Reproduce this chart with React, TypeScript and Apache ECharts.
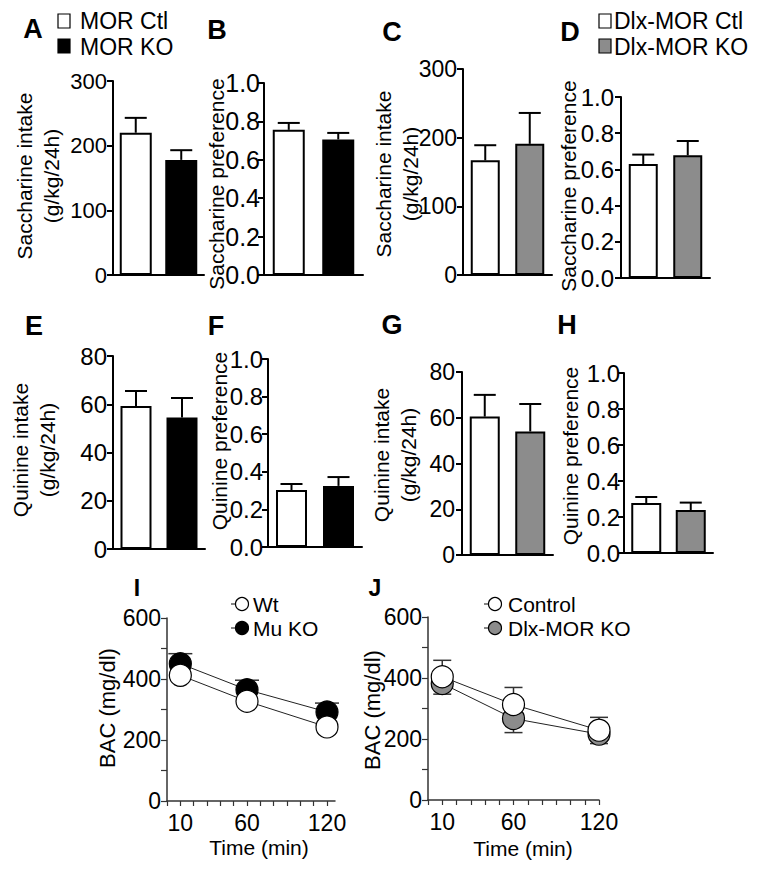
import React, { useEffect, useRef } from "react";
import * as echarts from "echarts";

const FONT = "'Liberation Sans', Arial, Helvetica, sans-serif";

// ---------- data ----------
const groupsMOR = ["MOR Ctl", "MOR KO"];
const groupsDlx = ["Dlx-MOR Ctl", "Dlx-MOR KO"];
const colorsMOR = ["#ffffff", "#000000"];
const colorsDlx = ["#ffffff", "#8c8c8c"];

const saccharineIntakeMOR = [220, 178];
const saccharineIntakeMORSem = [23, 15];
const saccharinePrefMOR = [0.756, 0.706];
const saccharinePrefMORSem = [0.036, 0.034];
const saccharineIntakeDlx = [167, 191];
const saccharineIntakeDlxSem = [22, 45];
const saccharinePrefDlx = [0.63, 0.678];
const saccharinePrefDlxSem = [0.052, 0.079];

const quinineIntakeMOR = [59.3, 54.5];
const quinineIntakeMORSem = [6.2, 8.1];
const quininePrefMOR = [0.303, 0.325];
const quininePrefMORSem = [0.032, 0.047];
const quinineIntakeDlx = [60.5, 54];
const quinineIntakeDlxSem = [9.5, 12];
const quininePrefDlx = [0.278, 0.239];
const quininePrefDlxSem = [0.033, 0.041];

const timeMin = [10, 60, 120];
const bacWt = [412, 327, 243];
const bacMuKO = [450, 365, 292];
const bacMuKOSem = [33, 31, 29];
const bacControl = [404, 313, 229];
const bacControlSem = [54, 56, 42];
const bacDlxKO = [382, 267, 216];
const bacDlxKOSem = [35, 46, 31];

const timeTicks = [0, 10, 20, 30, 40, 50, 60, 70, 80, 90, 100, 110, 120];
const timeLabels = [10, 60, 120];

// ---------- helpers ----------
type Box = { left: number; top: number; width: number; height: number };

function errRender(capHalf: number, lw: number, color: string) {
  return (params: any, api: any) => {
    const x = api.value(0);
    const a = api.coord([x, api.value(1)]);
    const b = api.coord([x, api.value(2)]);
    const style = { stroke: color, lineWidth: lw };
    return {
      type: "group",
      children: [
        { type: "line", shape: { x1: a[0], y1: a[1], x2: b[0], y2: b[1] }, style },
        { type: "line", shape: { x1: b[0] - capHalf, y1: b[1], x2: b[0] + capHalf, y2: b[1] }, style },
      ],
    };
  };
}

function barPanel(
  idx: number,
  box: Box,
  yMax: number,
  yInterval: number,
  decimals: number,
  cats: string[],
  values: number[],
  sems: number[],
  colors: string[],
  barWidth: number,
  tickFont: number,
  labelMargin: number
) {
  const grid = { ...box, containLabel: false };
  const xAxis = {
    type: "category",
    gridIndex: idx,
    data: cats,
    boundaryGap: true,
    axisLine: { show: true, lineStyle: { color: "#000", width: 2 } },
    axisTick: { show: false },
    axisLabel: { show: false },
    splitLine: { show: false },
  };
  const yAxis = {
    type: "value",
    gridIndex: idx,
    min: 0,
    max: yMax,
    interval: yInterval,
    axisLine: { show: true, lineStyle: { color: "#000", width: 2 } },
    axisTick: { show: true, length: 6, lineStyle: { color: "#000", width: 2 } },
    axisLabel: {
      margin: labelMargin,
      fontSize: tickFont,
      fontFamily: FONT,
      color: "#000",
      formatter: (v: number) => v.toFixed(decimals),
    },
    splitLine: { show: false },
  };
  const series = [
    {
      type: "bar",
      xAxisIndex: idx,
      yAxisIndex: idx,
      barWidth,
      z: 2,
      data: values.map((v, i) => ({
        value: v,
        itemStyle: { color: colors[i], borderColor: "#000", borderWidth: 2 },
      })),
    },
    {
      type: "custom",
      xAxisIndex: idx,
      yAxisIndex: idx,
      z: 3,
      renderItem: errRender(11, 2, "#000"),
      encode: { x: 0, y: [1, 2] },
      data: values.map((v, i) => [i, v, v + sems[i]]),
    },
  ];
  return { grid, xAxis, yAxis, series };
}

function linePanel(
  idx: number,
  box: Box,
  xMax: number,
  lines: { name: string; values: number[]; fill: string }[],
  errs: { values: number[]; sems: number[]; dir: number; cap: number }[]
) {
  const grid = { ...box, containLabel: false };
  const xAxis = {
    type: "value",
    gridIndex: idx,
    min: 0,
    max: xMax,
    interval: 10,
    axisLine: { show: true, lineStyle: { color: "#333", width: 1.5 } },
    axisTick: { show: true, length: 5, customValues: timeTicks, lineStyle: { color: "#333", width: 1.2 } },
    axisLabel: {
      margin: 10,
      fontSize: 23,
      fontFamily: FONT,
      color: "#000",
      customValues: timeLabels,
      formatter: (v: number) => (timeLabels.indexOf(v) >= 0 ? String(v) : ""),
    },
    splitLine: { show: false },
  };
  const yAxis = {
    type: "value",
    gridIndex: idx,
    min: 0,
    max: 600,
    interval: 100,
    axisLine: { show: true, lineStyle: { color: "#333", width: 1.5 } },
    axisTick: { show: true, length: 6, lineStyle: { color: "#333", width: 1.2 } },
    axisLabel: {
      margin: 6,
      fontSize: 23,
      fontFamily: FONT,
      color: "#000",
      formatter: (v: number) => (v % 200 === 0 ? String(v) : ""),
    },
    splitLine: { show: false },
  };
  const series: any[] = [];
  errs.forEach((e) => {
    series.push({
      type: "custom",
      xAxisIndex: idx,
      yAxisIndex: idx,
      z: 1,
      renderItem: errRender(e.cap, 1.5, "#333"),
      encode: { x: 0, y: [1, 2] },
      data: e.values.map((v, i) => [timeMin[i], v, v + e.dir * e.sems[i]]),
    });
  });
  lines.forEach((l, k) => {
    series.push({
      type: "line",
      name: l.name,
      xAxisIndex: idx,
      yAxisIndex: idx,
      z: 2 + k,
      symbol: "circle",
      symbolSize: 22,
      itemStyle: { color: l.fill, borderColor: "#000", borderWidth: 1.2 },
      lineStyle: { color: "#222", width: 1 },
      data: l.values.map((v, i) => [timeMin[i], v]),
    });
  });
  return { grid, xAxis, yAxis, series };
}

function txt(text: string, x: number, y: number, size: number, extra: any = {}) {
  return {
    type: "text",
    x,
    y,
    rotation: extra.rotation || 0,
    style: {
      text,
      fontSize: size,
      fontFamily: FONT,
      fontWeight: extra.bold ? "bold" : "normal",
      fill: "#000",
      align: extra.align || "center",
      verticalAlign: "middle",
      lineHeight: extra.lineHeight || size * 1.05,
    },
  };
}

function vtxt(text: string, x: number, y: number, size: number, lineHeight = 27) {
  return txt(text, x, y, size, { rotation: Math.PI / 2, lineHeight });
}

export default function App() {
  const ref = useRef<HTMLDivElement>(null);

  useEffect(() => {
    document.body.style.margin = "0";
    if (!ref.current) return;
    const chart = echarts.init(ref.current, undefined, { renderer: "svg" });

    const panels = [
      barPanel(0, { left: 113, top: 81, width: 91, height: 194 }, 300, 100, 0, groupsMOR, saccharineIntakeMOR, saccharineIntakeMORSem, colorsMOR, 32, 22, 6),
      barPanel(1, { left: 264, top: 83, width: 99, height: 192 }, 1, 0.2, 1, groupsMOR, saccharinePrefMOR, saccharinePrefMORSem, colorsMOR, 32, 25, 4),
      barPanel(2, { left: 463, top: 69, width: 89, height: 206 }, 300, 100, 0, groupsDlx, saccharineIntakeDlx, saccharineIntakeDlxSem, colorsDlx, 29, 23, 6),
      barPanel(3, { left: 621, top: 97, width: 89, height: 181 }, 1, 0.2, 1, groupsDlx, saccharinePrefDlx, saccharinePrefDlxSem, colorsDlx, 29, 24, 7),
      barPanel(4, { left: 113, top: 356, width: 92, height: 193 }, 80, 20, 0, groupsMOR, quinineIntakeMOR, quinineIntakeMORSem, colorsMOR, 31, 24, 6),
      barPanel(5, { left: 268, top: 359, width: 94, height: 188 }, 1, 0.2, 1, groupsMOR, quininePrefMOR, quininePrefMORSem, colorsMOR, 31, 24, 5),
      barPanel(6, { left: 462, top: 372, width: 91, height: 183 }, 80, 20, 0, groupsDlx, quinineIntakeDlx, quinineIntakeDlxSem, colorsDlx, 30, 23, 7),
      barPanel(7, { left: 624, top: 373, width: 89, height: 180 }, 1, 0.2, 1, groupsDlx, quininePrefDlx, quininePrefDlxSem, colorsDlx, 30, 24, 4),
      linePanel(
        8,
        { left: 167, top: 618, width: 168, height: 183 },
        126,
        [
          { name: "Mu KO", values: bacMuKO, fill: "#000000" },
          { name: "Wt", values: bacWt, fill: "#ffffff" },
        ],
        [{ values: bacMuKO, sems: bacMuKOSem, dir: 1, cap: 12 }]
      ),
      linePanel(
        9,
        { left: 428, top: 617, width: 171, height: 183 },
        120,
        [
          { name: "Dlx-MOR KO", values: bacDlxKO, fill: "#8c8c8c" },
          { name: "Control", values: bacControl, fill: "#ffffff" },
        ],
        [
          { values: bacDlxKO, sems: bacDlxKOSem, dir: -1, cap: 9 },
          { values: bacControl, sems: bacControlSem, dir: 1, cap: 9 },
        ]
      ),
    ];

    const legendSq = (x: number, y: number, fill: string) => ({
      type: "rect",
      shape: { x, y, width: 12, height: 14 },
      style: { fill, stroke: "#000", lineWidth: 1.2 },
    });
    const legendCircle = (cx: number, cy: number, fill: string) => [
      { type: "line", shape: { x1: cx - 11, y1: cy, x2: cx - 5, y2: cy }, style: { stroke: "#333", lineWidth: 1.2 } },
      { type: "circle", shape: { cx, cy, r: 6.5 }, style: { fill, stroke: "#000", lineWidth: 1.2 } },
    ];

    const graphic: any[] = [
      // panel letters
      txt("A", 33, 29, 27, { bold: true }),
      txt("B", 217, 30, 27, { bold: true }),
      txt("C", 392, 32, 27, { bold: true }),
      txt("D", 570, 32, 27, { bold: true }),
      txt("E", 34, 326, 27, { bold: true }),
      txt("F", 216, 326, 27, { bold: true }),
      txt("G", 392, 325, 27, { bold: true }),
      txt("H", 567, 325, 27, { bold: true }),
      txt("I", 137, 588, 23, { bold: true }),
      txt("J", 375, 588, 23, { bold: true }),
      // bar legends
      legendSq(58, 14, "#ffffff"),
      legendSq(58, 39, "#000000"),
      txt(groupsMOR[0], 80, 21, 23, { align: "left", lineHeight: 22 }),
      txt(groupsMOR[1], 80, 47, 23, { align: "left", lineHeight: 22 }),
      legendSq(599, 14, "#ffffff"),
      legendSq(599, 39, "#8c8c8c"),
      txt(groupsDlx[0], 614, 21, 23, { align: "left", lineHeight: 22 }),
      txt(groupsDlx[1], 614, 47, 23, { align: "left", lineHeight: 22 }),
      // line legends
      ...legendCircle(242, 604, "#ffffff"),
      ...legendCircle(242, 628, "#000000"),
      txt("Wt", 253, 604, 21, { align: "left", lineHeight: 20 }),
      txt("Mu KO", 253, 628, 21, { align: "left", lineHeight: 20 }),
      ...legendCircle(495, 604, "#ffffff"),
      ...legendCircle(495, 628, "#8c8c8c"),
      txt("Control", 508, 604, 21, { align: "left", lineHeight: 20 }),
      txt("Dlx-MOR KO", 508, 628, 21, { align: "left", lineHeight: 20 }),
      // y axis titles
      vtxt("Saccharine intake\n(g/kg/24h)", 38, 176, 21),
      vtxt("Saccharine preference", 216, 184, 21),
      vtxt("Saccharine intake\n(g/kg/24h)", 397, 174, 21, 27),
      vtxt("Saccharine preference", 568, 186, 21),
      vtxt("Quinine intake\n(g/kg/24h)", 34, 450, 21),
      vtxt("Quinine preference", 219, 441, 21),
      vtxt("Quinine intake\n(g/kg/24h)", 395, 455, 21, 27),
      vtxt("Quinine preference", 570, 456, 21),
      vtxt("BAC (mg/dl)", 107, 708, 22),
      vtxt("BAC (mg/dl)", 372, 710, 22),
      // x axis titles
      txt("Time (min)", 259, 847, 21),
      txt("Time (min)", 523, 848, 21),
    ];

    chart.setOption({
      animation: false,
      backgroundColor: "#ffffff",
      textStyle: { fontFamily: FONT },
      grid: panels.map((p) => p.grid),
      xAxis: panels.map((p) => p.xAxis),
      yAxis: panels.map((p) => p.yAxis),
      series: panels.flatMap((p) => p.series),
      graphic,
    });

    return () => chart.dispose();
  }, []);

  return <div ref={ref} style={{ width: 770, height: 874 }} />;
}
